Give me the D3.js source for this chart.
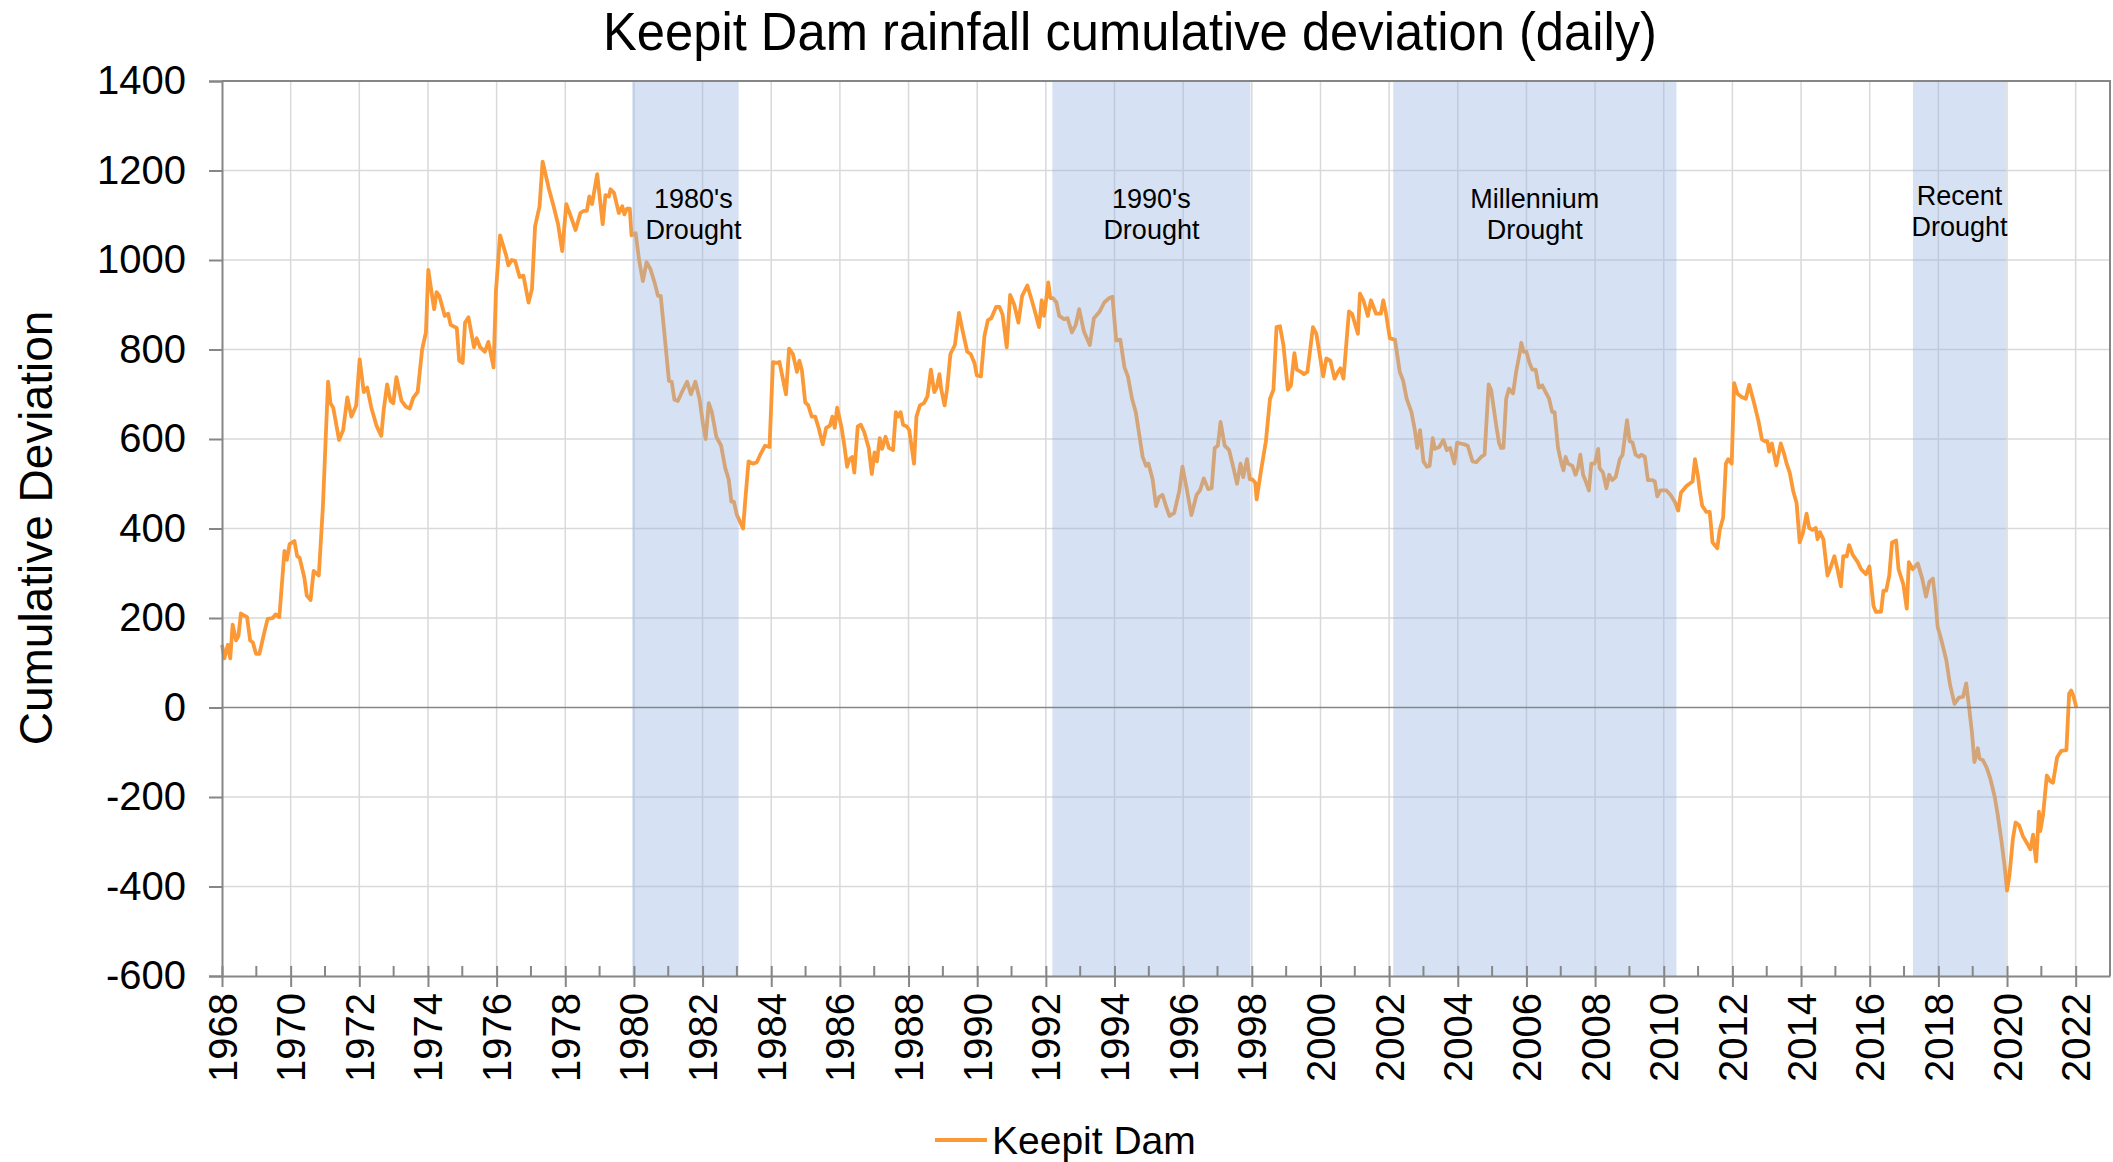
<!DOCTYPE html>
<html>
<head>
<meta charset="utf-8">
<script src="https://cdnjs.cloudflare.com/ajax/libs/d3/7.8.5/d3.min.js"></script>
<style>
  body { margin: 0; background: #fff; }
  svg { display: block; font-family: "Liberation Sans", Arial, sans-serif; }
</style>
</head>
<body>
<div id="chart"></div>
<script>
// decimal year of each reading
const years = [
  1968.00,1968.07,1968.17,1968.24,1968.31,1968.41,1968.48,1968.55,1968.73,1968.82,1968.90,1968.99,
  1969.09,1969.24,1969.33,1969.48,1969.56,1969.67,1969.82,1969.89,1969.97,
  1970.11,1970.19,1970.26,1970.40,1970.47,1970.58,1970.67,1970.82,1970.94,
  1971.02,1971.09,1971.16,1971.24,1971.41,1971.53,1971.65,1971.77,1971.91,
  1972.01,1972.13,1972.23,1972.35,1972.50,1972.64,1972.71,1972.81,1972.91,1972.99,
  1973.08,1973.23,1973.36,1973.47,1973.57,1973.70,1973.83,1973.94,
  1974.01,1974.11,1974.18,1974.25,1974.33,1974.49,1974.59,1974.66,1974.84,1974.91,
  1975.01,1975.08,1975.18,1975.34,1975.42,1975.52,1975.66,1975.76,1975.91,1975.98,
  1976.10,1976.28,1976.34,1976.44,1976.54,1976.67,1976.78,1976.93,
  1977.03,1977.12,1977.25,1977.34,1977.52,1977.66,1977.79,1977.91,
  1978.03,1978.15,1978.30,1978.44,1978.54,1978.63,1978.70,1978.78,1978.93,
  1979.09,1979.17,1979.27,1979.32,1979.42,1979.56,1979.66,1979.72,1979.80,1979.88,1979.93,
  1980.05,1980.15,1980.26,1980.37,1980.48,1980.60,1980.70,1980.78,1980.87,1980.97,
  1981.02,1981.10,1981.18,1981.28,1981.40,1981.55,1981.66,1981.79,1981.91,
  1982.01,1982.09,1982.18,1982.27,1982.40,1982.54,1982.66,1982.76,1982.84,1982.91,
  1983.00,1983.18,1983.24,1983.34,1983.47,1983.58,1983.68,1983.82,1983.95,
  1984.05,1984.16,1984.24,1984.43,1984.52,1984.63,1984.75,1984.82,1984.89,1984.99,
  1985.08,1985.18,1985.28,1985.38,1985.50,1985.60,1985.71,1985.78,1985.85,1985.92,
  1986.05,1986.14,1986.21,1986.28,1986.36,1986.42,1986.52,1986.61,1986.71,1986.84,1986.93,
  1987.01,1987.08,1987.16,1987.23,1987.33,1987.43,1987.55,1987.63,1987.70,1987.77,1987.84,1987.95,
  1988.02,1988.16,1988.23,1988.33,1988.45,1988.55,1988.65,1988.75,1988.82,1988.90,1988.95,
  1989.05,1989.12,1989.22,1989.35,1989.47,1989.58,1989.71,1989.81,1989.92,1989.99,
  1990.11,1990.21,1990.31,1990.41,1990.55,1990.65,1990.74,1990.86,1990.96,
  1991.08,1991.20,1991.31,1991.46,1991.59,1991.70,1991.80,1991.88,1991.95,
  1992.07,1992.13,1992.21,1992.31,1992.39,1992.53,1992.63,1992.76,1992.87,1992.97,
  1993.11,1993.28,1993.40,1993.57,1993.70,1993.85,1993.94,
  1994.05,1994.17,1994.29,1994.39,1994.51,1994.62,1994.72,1994.82,1994.92,1994.99,
  1995.11,1995.21,1995.30,1995.40,1995.50,1995.60,1995.74,1995.89,1995.98,
  1996.10,1996.24,1996.39,1996.49,1996.60,1996.73,1996.83,1996.92,
  1997.01,1997.09,1997.21,1997.34,1997.45,1997.57,1997.67,1997.75,1997.86,1997.94,
  1998.01,1998.10,1998.14,1998.27,1998.41,1998.53,1998.63,1998.72,1998.82,1998.92,
  1999.05,1999.14,1999.24,1999.31,1999.43,1999.52,1999.62,1999.78,1999.88,
  2000.08,2000.17,2000.29,2000.41,2000.51,2000.58,2000.67,2000.83,2000.92,
  2001.09,2001.15,2001.25,2001.38,2001.47,2001.62,2001.76,2001.83,2001.91,
  2002.02,2002.17,2002.31,2002.41,2002.51,2002.65,2002.75,2002.82,2002.90,
  2003.00,2003.10,2003.18,2003.27,2003.33,2003.46,2003.58,2003.68,2003.78,2003.90,2003.98,
  2004.08,2004.19,2004.29,2004.43,2004.54,2004.68,2004.78,2004.90,2004.97,
  2005.12,2005.20,2005.26,2005.33,2005.41,2005.49,2005.61,2005.70,2005.80,2005.85,2005.92,
  2006.00,2006.09,2006.17,2006.27,2006.36,2006.46,2006.56,2006.66,2006.75,2006.82,2006.92,
  2007.02,2007.08,2007.14,2007.21,2007.34,2007.43,2007.50,2007.57,2007.65,2007.73,2007.82,2007.89,2007.99,
  2008.09,2008.13,2008.23,2008.33,2008.41,2008.50,2008.60,2008.72,2008.80,2008.93,
  2009.01,2009.09,2009.18,2009.28,2009.35,2009.45,2009.54,2009.67,2009.74,2009.81,2009.90,
  2010.08,2010.20,2010.32,2010.42,2010.50,2010.66,2010.84,2010.91,
  2011.00,2011.05,2011.12,2011.24,2011.34,2011.42,2011.56,2011.63,2011.73,2011.81,2011.88,2011.98,
  2012.05,2012.15,2012.27,2012.39,2012.49,2012.63,2012.76,2012.86,2012.95,
  2013.02,2013.07,2013.15,2013.28,2013.41,2013.51,2013.58,2013.67,2013.77,2013.87,2013.96,
  2014.06,2014.16,2014.24,2014.33,2014.43,2014.48,2014.55,2014.65,2014.77,2014.87,2014.97,
  2015.06,2015.16,2015.23,2015.33,2015.40,2015.50,2015.65,2015.75,2015.89,2015.99,
  2016.11,2016.18,2016.33,2016.40,2016.48,2016.57,2016.65,2016.77,2016.84,2016.98,
  2017.08,2017.14,2017.25,2017.40,2017.53,2017.64,2017.74,2017.84,2017.91,2017.98,
  2018.08,2018.23,2018.34,2018.47,2018.60,2018.72,2018.81,2018.89,2018.98,
  2019.05,2019.15,2019.20,2019.30,2019.41,2019.51,2019.64,2019.73,2019.83,2019.93,
  2020.00,2020.07,2020.17,2020.25,2020.35,2020.46,2020.61,2020.68,2020.76,2020.80,2020.85,2020.93,2020.97,
  2021.05,2021.16,2021.26,2021.34,2021.46,2021.58,2021.73,2021.81,2021.87,2021.94,
  2022.02
];

// cumulative deviation at each reading
const deviation = [
  140,110,140,110,185,150,160,210,202,150,145,120,
  120,170,198,200,208,202,350,330,365,
  372,338,335,290,250,240,305,295,450,
  600,728,680,670,598,620,693,650,675,
  778,705,715,670,630,607,665,722,685,680,
  738,685,672,668,692,705,800,838,
  978,925,890,928,920,875,880,855,848,775,
  770,860,872,805,825,805,795,817,760,930,
  1055,1010,988,1000,998,962,965,905,
  935,1075,1120,1220,1160,1120,1080,1020,
  1125,1100,1067,1105,1110,1110,1142,1125,1192,
  1080,1145,1142,1158,1150,1105,1120,1102,1115,1115,1055,
  1060,1000,953,995,980,950,920,920,850,770,
  730,728,688,685,705,728,700,728,690,
  635,600,680,660,605,585,535,510,460,460,
  430,400,460,550,545,548,565,585,582,
  772,770,772,700,802,790,750,775,755,682,
  675,650,650,625,588,625,630,650,625,670,
  625,580,538,555,560,525,628,632,615,580,522,
  570,550,602,578,605,580,575,660,650,660,632,628,
  620,545,650,675,680,695,755,705,715,745,712,
  675,710,790,810,882,840,795,790,770,742,
  740,830,865,870,895,895,878,805,922,
  900,860,920,943,910,880,850,910,875,
  950,915,915,905,875,868,870,838,855,890,
  840,810,870,885,905,915,918,
  820,822,760,740,690,660,610,560,540,545,
  510,450,470,475,450,428,435,485,538,
  490,430,475,485,512,488,490,580,
  585,638,585,575,540,500,545,515,555,510,
  510,502,465,530,595,690,710,850,852,810,
  710,720,792,755,750,745,750,850,835,
  740,780,775,735,750,758,735,885,880,
  835,925,910,875,910,880,880,910,880,
  825,822,750,730,690,660,620,580,620,
  550,538,540,602,578,582,598,575,580,545,592,
  590,588,585,550,548,560,565,722,710,
  630,592,580,580,690,712,702,750,790,815,795,
  795,770,755,755,715,720,705,690,660,660,580,
  545,530,560,545,540,520,535,565,520,505,485,545,545,
  578,535,525,490,520,508,515,555,565,642,
  595,592,565,560,565,560,508,508,505,472,485,
  485,475,460,440,480,495,505,555,
  515,485,451,437,437,369,356,396,424,545,555,545,
  725,701,694,690,721,681,640,599,595,
  595,572,590,541,590,566,545,525,484,457,369,
  392,433,401,397,401,376,392,376,295,315,338,
  309,271,338,338,363,342,325,309,298,315,
  227,214,214,261,261,295,369,373,309,275,
  221,325,309,322,288,248,281,288,241,180,
  153,106,51,8,22,24,54,4,-57,
  -122,-91,-114,-118,-135,-158,-199,-240,-294,-355,
  -409,-375,-294,-257,-263,-287,-307,-317,-284,-314,-344,-233,-276,
  -240,-152,-165,-168,-111,-97,-95,31,38,24,
  0
];

const droughtStart = [1979.95, 1992.19, 2002.12, 2017.26];
const droughtEnd = [1983.05, 1997.96, 2010.37, 2019.97];
const droughtLabels = [["1980's", "Drought"], ["1990's", "Drought"], ["Millennium", "Drought"], ["Recent", "Drought"]];

const yTicks = [-600, -400, -200, 0, 200, 400, 600, 800, 1000, 1200, 1400];
const xTicks = [1968, 1970, 1972, 1974, 1976, 1978, 1980, 1982, 1984, 1986, 1988, 1990, 1992, 1994,
  1996, 1998, 2000, 2002, 2004, 2006, 2008, 2010, 2012, 2014, 2016, 2018, 2020, 2022];
const xMinorTicks = [1969, 1971, 1973, 1975, 1977, 1979, 1981, 1983, 1985, 1987, 1989, 1991, 1993, 1995,
  1997, 1999, 2001, 2003, 2005, 2007, 2009, 2011, 2013, 2015, 2017, 2019, 2021];

const width = 2113, height = 1162;
const plotLeft = 222, plotRight = 2110, plotTop = 81, plotBottom = 976;

const svg = d3.select("#chart").append("svg")
    .attr("width", width)
    .attr("height", height);

svg.append("rect").attr("width", width).attr("height", height).attr("fill", "#fff");

const x = d3.scaleLinear().domain([1968, 2023]).range([plotLeft, plotRight]);
const y = d3.scaleLinear().domain([-600, 1400]).range([plotBottom, plotTop]);

const gridColor = "#d9d9d9";
const axisColor = "#868686";
const lineColor = "#fb9936";

// gridlines
svg.append("g").selectAll("line")
    .data(yTicks.filter(d => d !== -600 && d !== 0 && d !== 1400))
    .join("line")
    .attr("x1", plotLeft).attr("x2", plotRight)
    .attr("y1", d => y(d)).attr("y2", d => y(d))
    .attr("stroke", gridColor).attr("stroke-width", 1.5);

svg.append("g").selectAll("line")
    .data(xTicks.filter(d => d !== 1968))
    .join("line")
    .attr("x1", d => x(d)).attr("x2", d => x(d))
    .attr("y1", plotTop).attr("y2", plotBottom)
    .attr("stroke", gridColor).attr("stroke-width", 1.5);

// the series
const points = years.map((yr, i) => [yr, deviation[i]]);
const line = d3.line().x(d => x(d[0])).y(d => y(d[1]));

svg.append("path")
    .datum(points)
    .attr("fill", "none")
    .attr("stroke", lineColor)
    .attr("stroke-width", 3.8)
    .attr("stroke-linejoin", "round")
    .attr("d", line);

// drought bands sit over the line, semi transparent
svg.append("g").selectAll("rect")
    .data(droughtStart)
    .join("rect")
    .attr("x", d => x(d))
    .attr("width", (d, i) => x(droughtEnd[i]) - x(d))
    .attr("y", plotTop)
    .attr("height", plotBottom - plotTop)
    .attr("fill", "rgb(153,183,225)")
    .attr("fill-opacity", 0.4);

// zero line and plot border
svg.append("line")
    .attr("x1", plotLeft).attr("x2", plotRight)
    .attr("y1", y(0)).attr("y2", y(0))
    .attr("stroke", axisColor).attr("stroke-width", 1.5);

svg.append("path")
    .attr("d", `M${plotLeft},${plotTop} H${plotRight} V${plotBottom}`)
    .attr("fill", "none")
    .attr("stroke", axisColor).attr("stroke-width", 2);

// y axis
const yAxis = svg.append("g")
    .attr("transform", `translate(${plotLeft},0)`)
    .call(d3.axisLeft(y).tickValues(yTicks).tickFormat(d => String(d)).tickSize(13).tickPadding(23));
yAxis.select(".domain").attr("stroke", axisColor).attr("stroke-width", 2);
yAxis.selectAll(".tick line").attr("stroke", axisColor).attr("stroke-width", 2);
yAxis.selectAll(".tick text")
    .attr("font-size", 40)
    .attr("font-family", "Liberation Sans, Arial, sans-serif")
    .attr("fill", "#000");

// x axis
const xAxis = svg.append("g")
    .attr("transform", `translate(0,${plotBottom})`)
    .call(d3.axisBottom(x).tickValues(xTicks).tickFormat(d => String(d)).tickSizeOuter(0));
xAxis.select(".domain").attr("stroke", axisColor).attr("stroke-width", 2);
xAxis.selectAll(".tick line")
    .attr("y1", -10).attr("y2", 11)
    .attr("stroke", axisColor).attr("stroke-width", 2);
xAxis.selectAll(".tick text")
    .attr("font-size", 40)
    .attr("font-family", "Liberation Sans, Arial, sans-serif")
    .attr("fill", "#000")
    .attr("text-anchor", "end")
    .attr("transform", "rotate(-90)")
    .attr("x", -17)
    .attr("y", 0)
    .attr("dy", "0.35em");

xAxis.selectAll("line.minor")
    .data(xMinorTicks)
    .join("line")
    .attr("class", "minor")
    .attr("x1", d => x(d)).attr("x2", d => x(d))
    .attr("y1", -10).attr("y2", 0)
    .attr("stroke", axisColor).attr("stroke-width", 2);

// drought labels
const labelG = svg.append("g")
    .attr("font-size", 27)
    .attr("fill", "#000")
    .attr("text-anchor", "middle");

droughtLabels.forEach((lines, i) => {
    const cx = x((droughtStart[i] + droughtEnd[i]) / 2) + (i === 0 ? 8 : 0);
    const base = i === 3 ? 205 : 208;
    lines.forEach((t, j) => {
        labelG.append("text")
            .attr("x", cx)
            .attr("y", base + j * 31)
            .text(t);
    });
});

// title (tall, slightly narrow lettering)
svg.append("text")
    .attr("x", 1130)
    .attr("y", 50)
    .attr("text-anchor", "middle")
    .attr("font-size", 54)
    .attr("textLength", 1054)
    .attr("lengthAdjust", "spacingAndGlyphs")
    .attr("fill", "#000")
    .text("Keepit Dam rainfall cumulative deviation (daily)");

// y axis title
svg.append("text")
    .attr("transform", "translate(52,528) rotate(-90)")
    .attr("text-anchor", "middle")
    .attr("font-size", 46)
    .attr("fill", "#000")
    .text("Cumulative Deviation");

// legend
svg.append("line")
    .attr("x1", 935).attr("x2", 987)
    .attr("y1", 1140).attr("y2", 1140)
    .attr("stroke", lineColor)
    .attr("stroke-width", 3.8);

svg.append("text")
    .attr("x", 992)
    .attr("y", 1154)
    .attr("font-size", 39)
    .attr("fill", "#000")
    .text("Keepit Dam");
</script>
</body>
</html>
